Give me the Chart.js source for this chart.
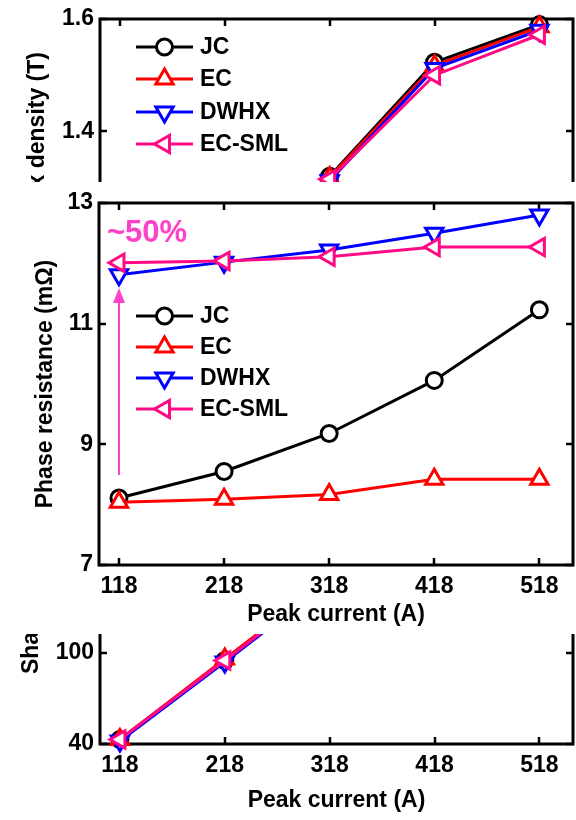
<!DOCTYPE html>
<html>
<head>
<meta charset="utf-8">
<script src="https://cdn.jsdelivr.net/npm/chart.js@4.4.1/dist/chart.umd.min.js"></script>
<style>
html, body { margin: 0; padding: 0; background: #fff; overflow: hidden; }
body { width: 576px; height: 820px; position: relative; }
.panel { position: absolute; left: 0; width: 576px; }
.panel canvas { display: block; }
#topPanel { top: 0; height: 300px; z-index: 1; }
#bottomPanel { top: 350px; height: 470px; z-index: 1; }
#midPanel { top: 182px; height: 452px; z-index: 2; background: #fff; }
</style>
</head>
<body>
<div class="panel" id="topPanel"><canvas id="fluxChart" width="576" height="300"></canvas></div>
<div class="panel" id="bottomPanel"><canvas id="shaftChart" width="576" height="470"></canvas></div>
<div class="panel" id="midPanel"><canvas id="resChart" width="576" height="452"></canvas></div>
<script>
// categories (x)
const peakCurrent = [118, 218, 318, 418, 518];
const seriesNames = ['JC', 'EC', 'DWHX', 'EC-SML'];

// top panel: flux density (T) - only the upper part is visible
const fluxJC    = [1.02, 1.15, 1.320, 1.523, 1.590];
const fluxEC    = [1.02, 1.15, 1.318, 1.517, 1.586];
const fluxDWHX  = [1.01, 1.14, 1.312, 1.512, 1.580];
const fluxECSML = [1.01, 1.14, 1.315, 1.500, 1.572];
const fluxTicks = [1.2, 1.4, 1.6];

// middle panel: phase resistance (mOhm)
const resJC    = [8.11, 8.55, 9.18, 10.06, 11.23];
const resEC    = [8.04, 8.09, 8.17, 8.42, 8.42];
const resDWHX  = [11.81, 12.02, 12.22, 12.50, 12.80];
const resECSML = [12.01, 12.04, 12.11, 12.27, 12.27];
const resTicks = [7, 9, 11, 13];

// bottom panel: shaft ... - only the lower part is visible
const shaftJC    = [43, 95, 148, 200, 250];
const shaftEC    = [43, 96, 149, 201, 251];
const shaftDWHX  = [42, 94, 147, 199, 249];
const shaftECSML = [43, 95, 148, 200, 250];
const shaftTicks = [40, 100, 160, 220];

// annotation (~50% arrow at 118 A)
const arrowX = 118;
const arrowFrom = 8.49;
const arrowTo = 11.59;
const noteText = '~50%';
const noteX = 106.6;
const noteY = 12.35;

const seriesStyle = [
    { color: '#000000', shape: 'circle',   rotation: 0,   radius: 8 },
    { color: '#ff0000', shape: 'triangle', rotation: 0,   radius: 10 },
    { color: '#0000ff', shape: 'triangle', rotation: 180, radius: 10 },
    { color: '#ff0a84', shape: 'triangle', rotation: -90, radius: 10 }
];

const FONT = 'Liberation Sans, Arial, sans-serif';
const tickFont = { family: FONT, size: 23, weight: 'bold', lineHeight: 1.2 };
const titleFont = { family: FONT, size: 23, weight: 'bold', lineHeight: 1.2 };
const xTitleFont = { family: FONT, size: 23, weight: 'bold', lineHeight: 1.2 };
const legendFont = 'bold 23px ' + FONT;
const noteColor = '#ff40c8';

function drawMarker(ctx, shape, x, y, radius, rotation) {
    ctx.beginPath();
    if (shape === 'circle') {
        ctx.arc(x, y, radius, 0, Math.PI * 2);
    } else {
        var rad = rotation * Math.PI / 180;
        ctx.moveTo(x + Math.sin(rad) * radius, y - Math.cos(rad) * radius);
        rad += 2 * Math.PI / 3;
        ctx.lineTo(x + Math.sin(rad) * radius, y - Math.cos(rad) * radius);
        rad += 2 * Math.PI / 3;
        ctx.lineTo(x + Math.sin(rad) * radius, y - Math.cos(rad) * radius);
        ctx.closePath();
    }
    ctx.fill();
    ctx.stroke();
}

function makeDatasets(seriesValues) {
    return seriesValues.map(function (vals, i) {
        var st = seriesStyle[i];
        return {
            label: seriesNames[i],
            data: peakCurrent.map(function (x, j) { return { x: x, y: vals[j] }; }),
            borderColor: st.color,
            backgroundColor: '#ffffff',
            borderWidth: 3,
            pointStyle: st.shape,
            pointRotation: st.rotation,
            pointRadius: st.radius,
            pointHoverRadius: st.radius,
            pointBorderWidth: 3,
            pointBackgroundColor: '#ffffff',
            pointBorderColor: st.color,
            tension: 0,
            clip: false,
            order: seriesValues.length - i
        };
    });
}

// box + inward ticks on all four sides, plus the line/marker legend
const framePlugin = {
    id: 'frame',
    beforeDatasetsDraw: function (chart) {
        var ctx = chart.ctx, a = chart.chartArea;
        var xs = chart.scales.x, ys = chart.scales.y;
        ctx.save();
        ctx.strokeStyle = '#000';
        ctx.lineWidth = 3;
        ctx.strokeRect(a.left, a.top, a.right - a.left, a.bottom - a.top);
        ctx.lineWidth = 2.5;
        ctx.beginPath();
        xs.ticks.forEach(function (t) {
            var px = Math.round(xs.getPixelForValue(t.value));
            ctx.moveTo(px, a.bottom); ctx.lineTo(px, a.bottom - 7);
            ctx.moveTo(px, a.top); ctx.lineTo(px, a.top + 7);
        });
        ys.ticks.forEach(function (t) {
            var py = Math.round(ys.getPixelForValue(t.value));
            ctx.moveTo(a.left, py); ctx.lineTo(a.left + 7, py);
            ctx.moveTo(a.right, py); ctx.lineTo(a.right - 7, py);
        });
        ctx.stroke();
        ctx.restore();
    },
    afterDatasetsDraw: function (chart, args, opts) {
        if (!opts.legendRows) return;
        var ctx = chart.ctx;
        ctx.save();
        ctx.font = legendFont;
        ctx.textBaseline = 'middle';
        chart.data.datasets.forEach(function (ds, i) {
            var st = seriesStyle[i];
            var y = opts.legendRows[i];
            ctx.strokeStyle = st.color;
            ctx.lineWidth = 3;
            ctx.beginPath();
            ctx.moveTo(opts.lineX0, y);
            ctx.lineTo(opts.lineX1, y);
            ctx.stroke();
            ctx.fillStyle = '#fff';
            drawMarker(ctx, st.shape, (opts.lineX0 + opts.lineX1) / 2, y, st.radius, st.rotation);
            ctx.fillStyle = '#000';
            ctx.fillText(ds.label, opts.textX, y + 1);
        });
        ctx.restore();
    }
};

const notePlugin = {
    id: 'note',
    afterDatasetsDraw: function (chart) {
        var ctx = chart.ctx, xs = chart.scales.x, ys = chart.scales.y;
        var ax = Math.round(xs.getPixelForValue(arrowX));
        var y0 = ys.getPixelForValue(arrowFrom);
        var y1 = ys.getPixelForValue(arrowTo);
        ctx.save();
        ctx.strokeStyle = noteColor;
        ctx.fillStyle = noteColor;
        ctx.lineWidth = 2;
        ctx.beginPath();
        ctx.moveTo(ax, y0);
        ctx.lineTo(ax, y1 + 12);
        ctx.stroke();
        ctx.beginPath();
        ctx.moveTo(ax, y1);
        ctx.lineTo(ax - 6, y1 + 15);
        ctx.lineTo(ax + 6, y1 + 15);
        ctx.closePath();
        ctx.fill();
        ctx.font = 'bold 31px ' + FONT;
        ctx.textBaseline = 'alphabetic';
        ctx.fillText(noteText, xs.getPixelForValue(noteX), ys.getPixelForValue(noteY));
        ctx.restore();
    }
};

function makeChart(canvasId, cfg) {
    return new Chart(document.getElementById(canvasId), {
        type: 'line',
        data: { datasets: makeDatasets(cfg.series) },
        options: {
            responsive: false,
            animation: false,
            events: [],
            layout: { autoPadding: false, padding: { top: cfg.padTop, right: 3, left: 0, bottom: 0 } },
            plugins: {
                legend: { display: false },
                tooltip: { enabled: false },
                frame: cfg.legend || {}
            },
            scales: {
                x: {
                    type: 'linear',
                    min: 99,
                    max: 550,
                    afterBuildTicks: function (scale) {
                        scale.ticks = peakCurrent.map(function (v) { return { value: v }; });
                    },
                    afterFit: function (scale) {
                        scale.height = cfg.xHeight;
                        scale.paddingLeft = 0;
                        scale.paddingRight = 0;
                    },
                    grid: { display: false, drawTicks: false },
                    border: { display: false },
                    ticks: { color: '#000', font: tickFont, padding: 8, maxRotation: 0, autoSkip: false },
                    title: {
                        display: true, text: 'Peak current (A)', color: '#000',
                        font: xTitleFont, padding: { top: 0, bottom: cfg.xTitlePad }
                    }
                },
                y: {
                    min: cfg.yMin,
                    max: cfg.yMax,
                    afterBuildTicks: function (scale) {
                        scale.ticks = cfg.yTicks.map(function (v) { return { value: v }; });
                    },
                    afterFit: function (scale) {
                        scale.width = cfg.yWidth;
                        scale.paddingTop = 0;
                        scale.paddingBottom = 0;
                    },
                    grid: { display: false, drawTicks: false },
                    border: { display: false },
                    ticks: { color: '#000', font: tickFont, padding: 6 },
                    title: {
                        display: true, text: cfg.yTitle, color: '#000',
                        font: titleFont, padding: { top: cfg.yTitlePad, bottom: 0 }
                    }
                }
            }
        },
        plugins: [framePlugin].concat(cfg.extra || [])
    });
}

makeChart('fluxChart', {
    series: [fluxJC, fluxEC, fluxDWHX, fluxECSML],
    yMin: 1.18, yMax: 1.6, yTicks: fluxTicks,
    yTitle: 'Flux density (T)', yTitlePad: 24,
    padTop: 19, xHeight: 45, yWidth: 100, xTitlePad: 4,
    legend: { legendRows: [47, 79, 112, 144], lineX0: 136, lineX1: 193, textX: 200 }
});

makeChart('shaftChart', {
    series: [shaftJC, shaftEC, shaftDWHX, shaftECSML],
    yMin: 40, yMax: 260, yTicks: shaftTicks,
    yTitle: 'Shaft torque (Nm)', yTitlePad: 18,
    padTop: 60, xHeight: 76, yWidth: 100, xTitlePad: 6
});

makeChart('resChart', {
    series: [resJC, resEC, resDWHX, resECSML],
    yMin: 7, yMax: 13, yTicks: resTicks,
    yTitle: 'Phase resistance (mΩ)', yTitlePad: 32,
    padTop: 21, xHeight: 69, yWidth: 99, xTitlePad: 6,
    legend: { legendRows: [134, 165, 196, 227], lineX0: 136, lineX1: 193, textX: 200 },
    extra: [notePlugin]
});
</script>
</body>
</html>
